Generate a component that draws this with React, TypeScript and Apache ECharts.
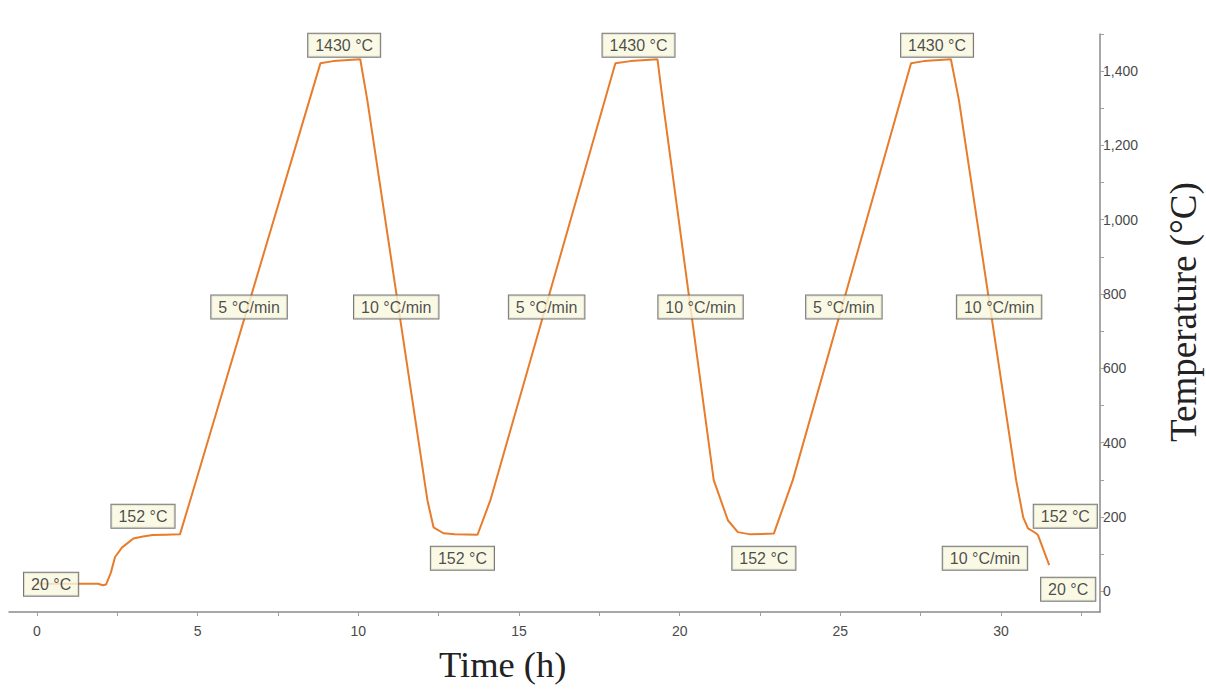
import React, { useEffect, useRef } from "react";
import * as echarts from "echarts";

// Temperature profile (time in hours, temperature in °C)
const timeH = [
  0, 1.9, 2.05, 2.15, 2.3, 2.43, 2.65, 2.8, 3.0, 3.3, 3.6, 4.0, 4.45,
  4.77, 8.82, 9.22, 10.06,
  10.28, 12.15, 12.34, 12.65, 13.0, 13.71,
  14.11, 18.0, 18.47, 19.31,
  19.47, 21.06, 21.5, 21.81, 22.2, 22.93,
  23.52, 27.2, 27.6, 28.44,
  28.69, 30.47, 30.69, 30.84, 31.09, 31.15, 31.5,
];
const tempC = [
  20, 20, 16, 18, 50, 92, 118, 128, 142, 147, 151, 152, 153,
  245, 1421, 1427, 1432,
  1322, 245, 172, 156, 153, 152,
  245, 1421, 1427, 1432,
  1322, 299, 191, 159, 153, 155,
  299, 1421, 1427, 1432,
  1322, 299, 199, 169, 156, 151, 70,
];

// Annotation boxes (text, anchored at time / temperature)
const noteText = [
  "20 °C", "152 °C", "5 °C/min", "1430 °C", "10 °C/min", "152 °C",
  "5 °C/min", "1430 °C", "10 °C/min", "152 °C",
  "5 °C/min", "1430 °C", "10 °C/min", "10 °C/min", "152 °C", "20 °C",
];
const noteTime = [
  0.44, 3.3, 6.6, 9.56, 11.18, 13.24,
  15.86, 18.72, 20.65, 22.62,
  25.11, 28.01, 29.94, 29.5, 32.0, 32.09,
];
const noteTemp = [
  19, 202, 765, 1470, 765, 89,
  765, 1470, 765, 89,
  765, 1470, 765, 89, 202, 5,
];

// Axis ticks and labels
const xLabelValues = [0, 5, 10, 15, 20, 25, 30];
const xTickValues = [0, 2.5, 5, 7.5, 10, 12.5, 15, 17.5, 20, 22.5, 25, 27.5, 30, 32.5];
const yLabelValues = [0, 200, 400, 600, 800, 1000, 1200, 1400];
const yTickValues = [0, 100, 200, 300, 400, 500, 600, 700, 800, 900, 1000, 1100, 1200, 1300, 1400, 1500];

export default function App() {
  const ref = useRef<HTMLDivElement>(null);

  useEffect(() => {
    if (!ref.current) return;
    const chart = echarts.init(ref.current, null, { renderer: "svg" });
    const lineData = timeH.map((t, i) => [t, tempC[i]]);
    const notes = noteText.map((s, i) => ({ name: s, value: [noteTime[i], noteTemp[i]] }));
    const axisFont = "'Liberation Sans', Arial, sans-serif";
    const titleFont = "'Liberation Serif', 'Times New Roman', serif";
    chart.setOption({
      animation: false,
      backgroundColor: "#ffffff",
      grid: { left: 9, right: 106, top: 34, bottom: 83, containLabel: false },
      xAxis: {
        type: "value",
        min: -0.87,
        max: 33.08,
        splitLine: { show: false },
        axisLine: { show: true, onZero: false, lineStyle: { color: "#8a8a8a", width: 1.5 } },
        axisTick: { show: true, length: 4, customValues: xTickValues, lineStyle: { color: "#a0a0a0" } },
        axisLabel: {
          color: "#4a4a4a",
          fontSize: 14,
          fontFamily: axisFont,
          margin: 12,
          customValues: xLabelValues,
          formatter: (v: number) => String(v),
        },
      },
      yAxis: {
        type: "value",
        position: "right",
        min: -56,
        max: 1500,
        splitLine: { show: false },
        axisLine: { show: true, onZero: false, lineStyle: { color: "#8a8a8a", width: 1.5 } },
        axisTick: { show: true, length: 4, customValues: yTickValues, lineStyle: { color: "#a0a0a0" } },
        axisLabel: {
          color: "#4a4a4a",
          fontSize: 14,
          fontFamily: axisFont,
          margin: 3,
          customValues: yLabelValues,
          formatter: (v: number) => Math.round(v).toLocaleString("en-US"),
        },
      },
      graphic: [
        {
          type: "text",
          left: 439,
          top: 646,
          style: {
            text: "Time (h)",
            fontSize: 36.5,
            fontFamily: titleFont,
            fill: "#222",
          },
        },
        {
          type: "text",
          x: 1165,
          y: 442,
          rotation: Math.PI / 2,
          style: {
            text: "Temperature (°C)",
            fontSize: 37,
            fontFamily: titleFont,
            fill: "#222",
          },
        },
      ],
      series: [
        {
          type: "line",
          data: lineData,
          showSymbol: false,
          symbol: "none",
          lineStyle: { color: "#E87C2A", width: 2 },
          z: 2,
        },
        {
          type: "scatter",
          data: notes,
          symbolSize: 1,
          itemStyle: { color: "rgba(0,0,0,0)" },
          z: 5,
          label: {
            show: true,
            position: "inside",
            formatter: (p: any) => p.name,
            color: "#1e1e1e",
            fontSize: 16,
            lineHeight: 17,
            fontFamily: axisFont,
            backgroundColor: "#F7F7E0",
            borderColor: "#555",
            borderWidth: 1,
            padding: [3, 7, 3, 7],
          },
        },
      ],
    });
    return () => chart.dispose();
  }, []);

  return (
    <div
      ref={ref}
      style={{ position: "fixed", left: 0, top: 0, width: 1206, height: 695 }}
    />
  );
}
